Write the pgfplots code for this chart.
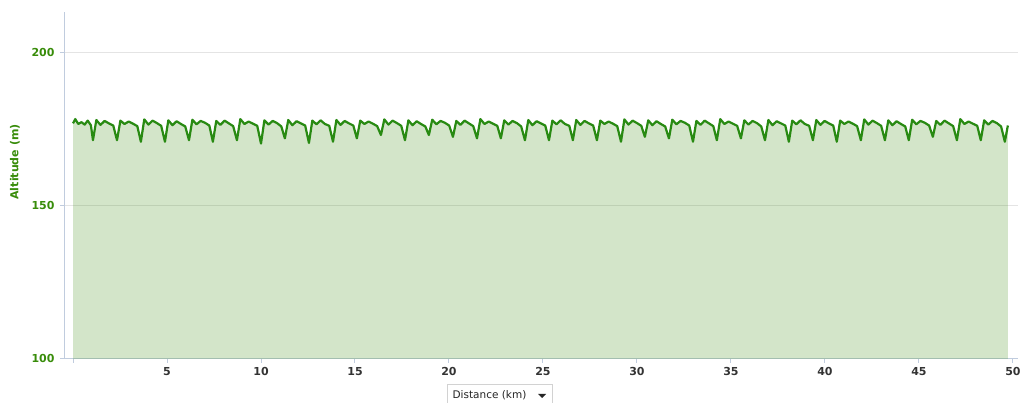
\documentclass[border=0pt]{standalone}
\usepackage{fontspec}
\setmainfont{DejaVu Sans}
\usepackage{pgfplots}
\usepackage{pgfplotstable}
\pgfplotsset{compat=1.18}
\definecolor{lineg}{RGB}{40,138,18}
\definecolor{fillg}{RGB}{80,150,40}
\definecolor{ytk}{RGB}{56,140,10}
\definecolor{axc}{RGB}{192,204,222}
\definecolor{grd}{RGB}{228,228,228}
\definecolor{xtk}{RGB}{51,51,51}
\pgfplotstableread{
x y
0 177.0
0.12 178.4
0.28 176.8
0.45 177.4
0.62 176.6
0.78 177.9
0.95 176.4
1.06 171.5
1.24 178.1
1.46 176.5
1.68 177.8
1.91 177.0
2.14 176.3
2.34 171.5
2.52 177.9
2.74 176.8
2.96 177.6
3.19 176.9
3.42 176.1
3.61 171.0
3.79 178.3
4.01 176.6
4.23 177.9
4.46 177.1
4.69 176.2
4.89 171.0
5.07 178.0
5.29 176.4
5.51 177.7
5.74 176.8
5.97 176.0
6.17 171.5
6.35 178.2
6.57 176.7
6.79 177.8
7.02 177.2
7.25 176.3
7.44 171.0
7.62 177.8
7.84 176.5
8.06 177.9
8.29 177.0
8.52 176.1
8.72 171.5
8.90 178.4
9.12 176.8
9.34 177.6
9.57 176.9
9.80 176.2
10.00 170.4
10.18 178.0
10.40 176.6
10.62 177.8
10.85 177.1
11.08 176.0
11.27 172.1
11.45 178.1
11.67 176.4
11.89 177.7
12.12 177.0
12.35 176.3
12.55 170.6
12.73 177.9
12.95 176.7
13.17 178.0
13.40 176.8
13.63 176.2
13.83 171.0
14.01 178.1
14.23 176.5
14.45 177.8
14.68 177.0
14.91 176.3
15.10 172.1
15.28 177.9
15.50 176.8
15.72 177.6
15.95 176.9
16.18 176.1
16.38 173.2
16.56 178.3
16.78 176.6
17.00 177.9
17.23 177.1
17.46 176.2
17.66 171.5
17.84 178.0
18.06 176.4
18.28 177.7
18.51 176.8
18.74 176.0
18.93 173.2
19.11 178.2
19.33 176.7
19.55 177.8
19.78 177.2
20.01 176.3
20.21 172.6
20.39 177.8
20.61 176.5
20.83 177.9
21.06 177.0
21.29 176.1
21.49 172.1
21.67 178.4
21.89 176.8
22.11 177.6
22.34 176.9
22.57 176.2
22.76 172.1
22.94 178.0
23.16 176.6
23.38 177.8
23.61 177.1
23.84 176.0
24.04 171.5
24.22 178.1
24.44 176.4
24.66 177.7
24.89 177.0
25.12 176.3
25.32 171.5
25.50 177.9
25.72 176.7
25.94 178.0
26.17 176.8
26.40 176.2
26.59 171.5
26.77 178.1
26.99 176.5
27.21 177.8
27.44 177.0
27.67 176.3
27.87 171.5
28.05 177.9
28.27 176.8
28.49 177.6
28.72 176.9
28.95 176.1
29.15 171.0
29.33 178.3
29.55 176.6
29.77 177.9
30.00 177.1
30.23 176.2
30.42 172.6
30.60 178.0
30.82 176.4
31.04 177.7
31.27 176.8
31.50 176.0
31.70 172.1
31.88 178.2
32.10 176.7
32.32 177.8
32.55 177.2
32.78 176.3
32.98 171.0
33.16 177.8
33.38 176.5
33.60 177.9
33.83 177.0
34.06 176.1
34.25 171.5
34.43 178.4
34.65 176.8
34.87 177.6
35.10 176.9
35.33 176.2
35.53 172.1
35.71 178.0
35.93 176.6
36.15 177.8
36.38 177.1
36.61 176.0
36.81 171.5
36.99 178.1
37.21 176.4
37.43 177.7
37.66 177.0
37.89 176.3
38.08 171.0
38.26 177.9
38.48 176.7
38.70 178.0
38.93 176.8
39.16 176.2
39.36 171.5
39.54 178.1
39.76 176.5
39.98 177.8
40.21 177.0
40.44 176.3
40.63 171.0
40.81 177.9
41.03 176.8
41.25 177.6
41.48 176.9
41.71 176.1
41.91 171.5
42.09 178.3
42.31 176.6
42.53 177.9
42.76 177.1
42.99 176.2
43.19 171.5
43.37 178.0
43.59 176.4
43.81 177.7
44.04 176.8
44.27 176.0
44.46 171.5
44.64 178.2
44.86 176.7
45.08 177.8
45.31 177.2
45.54 176.3
45.74 172.6
45.92 177.8
46.14 176.5
46.36 177.9
46.59 177.0
46.82 176.1
47.02 171.5
47.20 178.4
47.42 176.8
47.64 177.6
47.87 176.9
48.10 176.2
48.29 171.5
48.47 178.0
48.69 176.6
48.91 177.8
49.14 177.1
49.37 176.0
49.57 171.0
49.73 176.3
}\alt
\begin{document}
\begin{tikzpicture}
\useasboundingbox (0pt,0pt) rectangle (1022pt,403pt);
\begin{axis}[
  at={(64pt,44pt)}, anchor=south west,
  width=954pt, height=347pt, scale only axis,
  xmin=-0.48, xmax=50.27, ymin=100, ymax=213.4,
  axis lines*=left,
  axis line style={axc, line width=1pt},
  tick style={axc, line width=1pt},
  tick align=outside, major tick length=4pt,
  xtick={0,5,...,50},
  xticklabels={,5,10,15,20,25,30,35,40,45,50},
  ytick={100,150,200},
  ymajorgrids, grid style={grd, line width=1pt},
  /pgf/number format/assume math mode=true,
  xticklabel style={font=\bfseries\fontsize{11}{13}\selectfont, text=xtk, yshift=-1pt},
  yticklabel style={font=\bfseries\fontsize{11}{13}\selectfont, text=ytk, xshift=-2pt},
  clip=false,
]
\addplot[draw=none, fill=fillg, fill opacity=0.25] table[x=x,y=y]{\alt} \closedcycle;
\addplot[lineg, line width=2.2pt, line join=round] table[x=x,y=y]{\alt};
\end{axis}
\node[rotate=90, text=ytk, font=\bfseries\fontsize{11}{13}\selectfont] at (15pt,241pt) {Altitude (m)};
\draw[gray!35, fill=white] (447pt,19pt) rectangle (552pt,-6pt);
\node[text=black!85, font=\fontsize{10.5}{12}\selectfont] at (489.5pt,8pt) {Distance (km)};
\fill[black!85] (538pt,9pt) -- (546pt,9pt) -- (542pt,5pt) -- cycle;
\end{tikzpicture}
\end{document}
